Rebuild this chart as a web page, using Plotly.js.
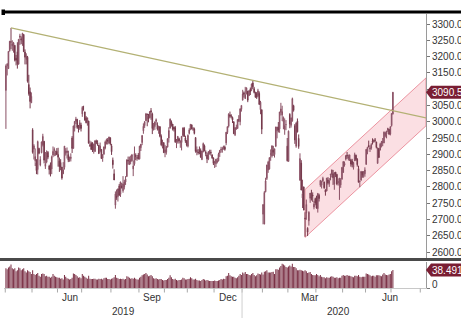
<!DOCTYPE html>
<html>
<head>
<meta charset="utf-8">
<script src="https://cdn.plot.ly/plotly-3.0.1.min.js"></script>
<style>
html,body{margin:0;padding:0;background:#fff;overflow:hidden}
#chart{width:461px;height:318px}
</style>
</head>
<body>
<div id="chart"></div>
<script>
// ---- Exchange calendar (non-trading weekdays) ----
const holidays = ['2019-04-05','2019-05-01','2019-05-02','2019-05-03','2019-06-07','2019-09-13',
  '2019-10-01','2019-10-02','2019-10-03','2019-10-04','2019-10-07','2020-01-01','2020-01-24',
  '2020-01-27','2020-01-28','2020-01-29','2020-01-30','2020-01-31','2020-04-06','2020-05-01',
  '2020-05-04','2020-05-05','2020-06-25','2020-06-26'];

// ---- Daily OHLC (one row per month: Apr 2019 ... Jul 2020) ----
const open = [
 3096,3172,3163,3218,3245,3233,3218,3234,3195,3215,3177,3259,3255,3244,3268,3214,3191,3198,3114,3092,3058,
 2975,2916,2880,2873,2853,2918,2867,2905,2929,2940,2863,2876,2906,2864,2854,2855,2898,2911,2897,2909,
 2899,2880,2875,2861,2840,2860,2903,2905,2899,2883,2887,2950,2918,2980,3001,3007,2976,2981,2990,
 3024,3043,3030,3012,3000,3002,2925,2933,2935,2913,2909,2940,2935,2928,2911,2915,2888,2901,2919,2938,2944,2935,2951,
 2926,2882,2840,2744,2771,2770,2803,2777,2803,2788,2800,2815,2832,2882,2870,2876,2880,2855,2871,2896,2887,2898,
 2886,2920,2936,2972,2988,3003,3023,3017,3012,3034,3024,2981,2985,3001,2990,2975,2985,2955,2923,2936,
 2905,2906,2922,2950,2980,2999,2993,2983,2982,2937,2939,2948,2936,2936,2958,2980,2950,2940,
 2925,2964,2975,2990,2976,2978,2951,2907,2907,2911,2912,2884,2908,2926,2907,2898,2885,2906,2906,2898,2889,
 2874,2871,2876,2880,2904,2913,2915,2918,2922,2935,2967,2986,3021,3017,3013,2999,2960,2980,2979,3006,3000,3038,
 3066,3089,3071,3086,3094,3080,3100,3099,3119,3101,3090,3086,3080,3087,3037,3037,
 2716,2686,2785,2826,2852,2855,2900,2895,2913,2899,2925,2972,2983,2978,3029,3021,3000,2976,2991,2925,
 2878,3023,2989,3003,3049,2988,2925,3002,2949,2820,2873,2766,2800,2704,2720,2673,2696,2765,2768,2775,2738,2764,
 2743,2733,2774,2805,2805,2818,2815,2791,2787,2821,2810,2836,2838,2840,2809,2845,2838,2813,2810,2806,2823,
 2844,2867,2885,2897,2888,2881,2882,2879,2860,2880,2897,2885,2856,2816,2820,2846,2835,2840,
 2869,2908,2927,2916,2919,2940,2938,2944,2938,2872,2918,2913,2924,2935,2935,2957,2962,2974,2977,2962,
 2988,3024];
const high = [
 3176,3180,3217,3248,3288,3250,3245,3236,3205,3244,3253,3270,3262,3273,3268,3222,3210,3202,3144,3105,3090,
 2980,2931,2918,2885,2942,2920,2894,2939,2963,2940,2907,2912,2910,2868,2875,2896,2924,2921,2911,2919,
 2920,2890,2885,2861,2876,2925,2919,2921,2911,2893,2903,2956,2988,3002,3015,3009,2990,3005,2997,
 3048,3049,3031,3017,3012,3003,2942,2939,2937,2931,2942,2945,2943,2929,2936,2916,2900,2923,2942,2948,2950,2954,2951,
 2932,2890,2854,2786,2792,2794,2809,2816,2812,2833,2821,2833,2884,2893,2893,2896,2901,2881,2924,2903,2898,2904,
 2926,2931,2958,2995,3002,3027,3025,3024,3032,3042,3028,2996,3001,3010,2998,2987,2985,2961,2945,2936,
 2929,2925,2949,2983,3010,3004,2993,2985,2987,2947,2956,2951,2943,2956,2982,2984,2957,2944,
 2961,2980,2993,2992,2984,2982,2953,2924,2916,2924,2918,2910,2936,2930,2912,2904,2910,2914,2914,2900,2890,
 2880,2885,2889,2905,2913,2923,2922,2926,2927,2968,2985,3026,3031,3023,3016,3002,2983,2991,3007,3020,3040,3050,
 3098,3093,3107,3105,3094,3097,3105,3117,3127,3107,3092,3091,3101,3093,3064,3037,
 2746,2787,2828,2868,2880,2890,2915,2927,2926,2917,2984,2984,2999,3030,3058,3049,3016,3010,3005,2950,
 2973,3026,3012,3074,3052,2993,2997,3010,2961,2903,2882,2822,2800,2722,2761,2676,2725,2781,2791,2783,2757,2767,
 2773,2780,2779,2820,2819,2831,2816,2792,2827,2830,2827,2839,2853,2852,2844,2846,2840,2826,2828,2827,2860,
 2878,2878,2898,2907,2899,2899,2886,2886,2877,2905,2899,2888,2865,2818,2849,2848,2848,2860,
 2916,2923,2942,2927,2934,2949,2945,2950,2938,2920,2919,2935,2941,2950,2970,2969,2972,2981,2977,2985,
 3026,3091];
const low = [
 2978,3142,3162,3215,3223,3218,3212,3185,3173,3163,3175,3236,3238,3233,3215,3176,3176,3120,3080,3041,3058,
 2902,2884,2864,2839,2838,2900,2863,2903,2924,2872,2855,2872,2885,2838,2832,2839,2891,2894,2897,2898,
 2862,2846,2851,2822,2840,2853,2896,2887,2876,2877,2878,2904,2918,2970,2993,2978,2967,2975,2970,
 3015,3034,3003,2995,2988,2933,2923,2913,2907,2902,2907,2931,2926,2902,2906,2886,2877,2898,2915,2930,2930,2932,2927,
 2898,2856,2821,2733,2760,2755,2772,2769,2795,2782,2792,2806,2830,2868,2867,2869,2878,2833,2865,2882,2880,2884,
 2884,2910,2928,2963,2981,3002,2986,2998,3012,3006,2962,2973,2975,2990,2973,2963,2952,2926,2918,2905,
 2891,2899,2921,2936,2980,2985,2973,2970,2935,2919,2933,2933,2920,2912,2954,2953,2935,2924,
 2921,2961,2975,2977,2972,2961,2905,2897,2899,2900,2889,2882,2906,2909,2894,2873,2882,2899,2896,2886,2867,
 2858,2861,2872,2878,2892,2905,2905,2914,2911,2928,2962,2982,3012,3010,2996,2963,2956,2975,2979,2999,2989,3031,
 3066,3074,3070,3084,3060,3079,3082,3094,3100,3087,3074,3070,3075,3052,3023,2962,
 2685,2685,2783,2821,2843,2853,2880,2890,2895,2890,2922,2949,2967,2966,3019,3002,2977,2960,2974,2878,
 2878,2980,2982,3000,3031,2932,2920,2967,2917,2820,2790,2735,2728,2647,2699,2649,2681,2751,2758,2754,2731,2743,
 2733,2721,2755,2800,2795,2815,2794,2773,2787,2807,2800,2820,2829,2806,2791,2830,2805,2804,2760,2797,2823,
 2844,2862,2881,2886,2881,2880,2862,2860,2853,2880,2879,2862,2814,2799,2820,2828,2828,2831,
 2868,2900,2921,2907,2914,2930,2936,2937,2918,2872,2889,2912,2921,2925,2934,2952,2949,2968,2959,2958,
 2985,3022];
const close = [
 3171,3176,3216,3247,3245,3239,3242,3189,3189,3178,3253,3263,3251,3271,3215,3198,3201,3124,3086,3062,3078,
 2906,2926,2893,2850,2939,2903,2884,2938,2955,2882,2870,2905,2891,2853,2853,2892,2909,2915,2905,2899,
 2891,2862,2861,2827,2852,2925,2910,2910,2882,2888,2891,2918,2987,3001,3008,2982,2976,2997,2979,
 3044,3043,3005,2997,3012,2934,2929,2915,2918,2931,2942,2937,2932,2902,2925,2887,2899,2923,2938,2945,2941,2953,2932,
 2908,2868,2821,2778,2768,2794,2775,2815,2797,2809,2815,2824,2883,2880,2880,2884,2898,2864,2902,2894,2890,2886,
 2925,2931,2958,2986,3000,3024,3022,3008,3031,3030,2979,2986,2999,3006,2978,2986,2955,2929,2933,2905,
 2914,2924,2948,2973,3008,2991,2978,2977,2938,2940,2955,2941,2940,2955,2981,2955,2940,2929,
 2958,2975,2992,2978,2979,2964,2909,2914,2905,2910,2892,2910,2933,2911,2903,2886,2907,2907,2904,2889,2872,
 2876,2885,2879,2900,2912,2915,2917,2925,2915,2968,2985,3023,3017,3017,3005,2963,2982,2981,3007,3005,3040,3050,
 3085,3084,3083,3104,3066,3095,3092,3116,3107,3090,3075,3075,3095,3053,3060,2977,
 2746,2783,2818,2867,2876,2890,2901,2926,2906,2917,2984,2984,2975,3030,3039,3031,3013,2988,2991,2880,
 2971,2993,3012,3071,3035,2944,2997,2969,2924,2887,2790,2779,2729,2702,2746,2661,2722,2781,2765,2772,2747,2750,
 2735,2780,2764,2820,2816,2826,2797,2784,2827,2812,2819,2839,2852,2828,2844,2838,2809,2816,2811,2822,2860,
 2878,2872,2895,2895,2892,2898,2870,2868,2875,2899,2884,2868,2814,2818,2847,2837,2847,2852,
 2915,2921,2923,2919,2930,2937,2944,2943,2921,2920,2890,2931,2936,2939,2968,2965,2971,2980,2962,2985,
 3025,3090.57];
// ---- Daily volume (billions of shares) ----
const volume = [
 42,40,44,46,50,42,40,42,36,38,44,42,38,40,42,36,33,38,36,34,30,
 38,30,28,30,32,26,24,30,31,30,25,26,24,24,22,24,30,26,24,23,
 22,22,20,21,18,28,24,21,20,18,19,22,31,30,28,25,22,23,21,
 30,26,24,22,20,26,20,19,19,20,20,18,18,20,19,20,18,21,22,22,19,19,18,
 20,21,23,28,22,21,19,20,19,20,18,19,25,24,22,20,21,20,22,20,18,18,
 22,24,27,29,30,32,29,25,26,28,25,21,20,21,19,18,19,19,17,16,
 17,17,19,22,27,23,19,18,20,17,16,17,17,18,22,21,18,18,
 19,20,23,21,18,18,20,17,16,16,15,17,19,18,16,17,16,15,15,15,15,
 16,15,15,16,17,19,18,20,19,25,26,32,27,25,24,24,22,21,23,26,30,28,
 33,31,34,30,30,28,27,30,32,28,25,27,31,30,29,33,
 29,35,36,38,33,33,33,34,35,30,40,40,39,44,47,52,50,48,45,44,
 46,48,46,52,45,45,42,38,38,39,38,37,36,38,36,32,33,34,30,28,27,27,
 30,28,25,28,24,23,23,21,23,22,22,24,25,24,22,22,23,21,22,22,26,
 28,26,26,28,26,26,25,24,23,26,26,25,28,24,23,24,24,24,
 31,30,29,27,25,26,26,24,27,27,27,26,25,29,32,29,28,27,29,30,
 36,38.491];

// ---- Axis labels and drawn study lines ----
const priceTicks = [2600,2650,2700,2750,2800,2850,2900,2950,3000,3050,3100,3150,3200,3250,3300];
const labelMonths = ['2019-06','2019-09','2019-12','2020-03','2020-06'];
const monthTickLabels = ['Jun','Sep','Dec','Mar','Jun'];
const yearLabels = ['2019','2020'];
const trendAnchors = [['2019-04-08',3288],['2020-01-14',3127]];
const channelAnchors = [['2020-03-19',2645],['2020-05-25',2800]];
const channelWidth = 147;

// trading calendar
function tradingDays(start, end, hol){
  const out=[]; const d=new Date(start+'T00:00:00Z'); const e=new Date(end+'T00:00:00Z');
  while(d<=e){const w=d.getUTCDay(); const s=d.toISOString().slice(0,10);
    if(w!==0&&w!==6&&hol.indexOf(s)<0) out.push(s); d.setUTCDate(d.getUTCDate()+1);}
  return out;
}
const calendar = tradingDays('2019-04-01','2020-08-31',holidays);
const dates = calendar.slice(0, close.length);

// ---- pixel layout ----
const W=461,H=318,L=4,R=35,T=14,B=30,PW=W-L-R,PH=H-T-B;
const fx = px => (px-L)/PW, fy = py => (H-B-py)/PH;
const XMIN=-1.5, XMAX=330;
const PRICE_RANGE=[2581.6,3330.7], VOL_RANGE=[0,55.6];
const pPerPrice = (258-14)/(PRICE_RANGE[1]-PRICE_RANGE[0]);
const pPerVol = (288-262)/(VOL_RANGE[1]-VOL_RANGE[0]);
const monthLabelShift = [0,0,0,8,12];   // px nudges of the axis labels
const yearLabelShift = [0,4];

const traces = [
 {type:'candlestick', x:dates, open:open, high:high, low:low, close:close, xaxis:'x', yaxis:'y',
  increasing:{line:{color:'#8a5064',width:1}, fillcolor:'#c49aa8'},
  decreasing:{line:{color:'#76394c',width:1}, fillcolor:'#76394c'},
  whiskerwidth:0, hoverinfo:'skip', showlegend:false},
 {type:'bar', x:dates, y:volume, xaxis:'x', yaxis:'y2', marker:{color:'#7b3146', line:{width:0}},
  hoverinfo:'skip', showlegend:false}
];

// the last-price tag hides the label under it
const lastP=close[close.length-1], lastV=volume[volume.length-1];
const priceTickText = priceTicks.map(v => Math.abs(v-lastP) < 25 ? '' : v.toFixed(2));

// month spans
const months = {};
calendar.forEach((d,i)=>{const m=d.slice(0,7); if(!months[m]) months[m]={first:i,last:i}; else months[m].last=i;});
const shapes = [];
const annotations = [];
Object.keys(months).forEach(m=>{
  const b = months[m].first-0.5;
  if(b>=XMIN && b<=XMAX) shapes.push({type:'line',xref:'x',yref:'paper',x0:b,x1:b,y0:fy(288.5),y1:fy(292.5),line:{color:'#a8a8a8',width:1}});
});
labelMonths.forEach((m,k)=>{
  const c=(months[m].first+months[m].last)/2;
  annotations.push({xref:'x',yref:'paper',x:c,y:fy(297.5),xshift:monthLabelShift[k],text:monthTickLabels[k],showarrow:false,xanchor:'center',yanchor:'middle',font:{size:10,color:'#333'}});
});
const yearStart = calendar.findIndex(d=>d.slice(0,4)==='2020')-0.5;
annotations.push({xref:'x',yref:'paper',x:(XMIN+yearStart)/2,y:fy(311.5),xshift:yearLabelShift[0],text:yearLabels[0],showarrow:false,yanchor:'middle',font:{size:10,color:'#333'}});
annotations.push({xref:'x',yref:'paper',x:(yearStart+XMAX)/2,y:fy(311.5),xshift:yearLabelShift[1],text:yearLabels[1],showarrow:false,yanchor:'middle',font:{size:10,color:'#333'}});
shapes.push({type:'line',xref:'x',yref:'paper',x0:yearStart,x1:yearStart,y0:fy(292),y1:fy(322),line:{color:'#cfcfcf',width:1}});

// top rule and panel separator
shapes.push({type:'rect',xref:'paper',yref:'paper',x0:fx(5),x1:fx(470),y0:fy(13.5),y1:fy(10.5),fillcolor:'#000',line:{width:0}});
shapes.push({type:'rect',xref:'paper',yref:'paper',x0:fx(1.5),x1:fx(5),y0:fy(15),y1:fy(9.5),fillcolor:'#000',line:{width:0}});
shapes.push({type:'rect',xref:'paper',yref:'paper',x0:fx(-5),x1:fx(470),y0:fy(261),y1:fy(258),fillcolor:'#4a4a4a',line:{width:0}});

// trend line
const ti0=dates.indexOf(trendAnchors[0][0]), ti1=dates.indexOf(trendAnchors[1][0]);
const tslope=(trendAnchors[1][1]-trendAnchors[0][1])/(ti1-ti0);
shapes.push({type:'line',xref:'x',yref:'y',x0:ti0,y0:trendAnchors[0][1],x1:XMAX,y1:trendAnchors[0][1]+tslope*(XMAX-ti0),
  line:{color:'#b3b174',width:1.2},layer:'above'});

// rising channel
const ci0=dates.indexOf(channelAnchors[0][0]), ci1=dates.indexOf(channelAnchors[1][0]);
const cslope=(channelAnchors[1][1]-channelAnchors[0][1])/(ci1-ci0);
const lo0=channelAnchors[0][1], lo1=lo0+cslope*(XMAX-ci0);
shapes.push({type:'path',xref:'x',yref:'y',layer:'below',
  path:`M ${ci0} ${lo0} L ${XMAX} ${lo1} L ${XMAX} ${lo1+channelWidth} L ${ci0} ${lo0+channelWidth} Z`,
  fillcolor:'rgba(240,140,155,0.28)',line:{color:'rgba(232,130,145,0.85)',width:1}});

// last value tags
const hP=6.5/pPerPrice, hV=6.5/pPerVol;
shapes.push({type:'path',xref:'paper',yref:'y',fillcolor:'#7a1e33',line:{width:0},
  path:`M ${fx(426)} ${lastP} L ${fx(431)} ${lastP+hP} L ${fx(475)} ${lastP+hP} L ${fx(475)} ${lastP-hP} L ${fx(431)} ${lastP-hP} Z`});
shapes.push({type:'path',xref:'paper',yref:'y2',fillcolor:'#7a1e33',line:{width:0},
  path:`M ${fx(426)} ${lastV} L ${fx(431)} ${lastV+hV} L ${fx(475)} ${lastV+hV} L ${fx(475)} ${lastV-hV} L ${fx(431)} ${lastV-hV} Z`});
annotations.push({xref:'paper',yref:'y',x:fx(429.5),y:lastP,xanchor:'left',yanchor:'middle',showarrow:false,
  text:lastP.toFixed(2),font:{size:10,color:'#fff'}});
annotations.push({xref:'paper',yref:'y2',x:fx(429.5),y:lastV,xanchor:'left',yanchor:'middle',showarrow:false,
  text:String(lastV),font:{size:10,color:'#fff'}});
annotations.push({xref:'paper',yref:'paper',x:fx(430),y:fy(284),xanchor:'left',yanchor:'middle',showarrow:false,
  text:'0',font:{size:10,color:'#333'}});

const layout = {
  width:W, height:H, margin:{l:L,r:R,t:T,b:B,pad:0},
  paper_bgcolor:'#fff', plot_bgcolor:'#fff', showlegend:false, dragmode:false,
  font:{family:'Liberation Sans, Arial, sans-serif', size:10, color:'#333'},
  bargap:0.2,
  xaxis:{type:'category', range:[XMIN,XMAX], anchor:'y2', showgrid:false, zeroline:false,
    showticklabels:false, ticks:'', showline:true, linecolor:'#c8c8c8', linewidth:1,
    rangeslider:{visible:false}, fixedrange:true},
  yaxis:{domain:[fy(258),1], range:PRICE_RANGE, side:'right', anchor:'x', tickvals:priceTicks,
    ticktext:priceTickText, ticks:'outside', ticklen:3, tickcolor:'#777', showgrid:false, zeroline:false,
    showline:true, linecolor:'#9a9a9a', linewidth:1, tickfont:{size:10,color:'#333'}, fixedrange:true},
  yaxis2:{domain:[0,fy(262)], range:VOL_RANGE, side:'right', anchor:'x', tickvals:[0], ticktext:[''],
    ticks:'outside', ticklen:3, tickcolor:'#777', showgrid:false, zeroline:false,
    showline:true, linecolor:'#9a9a9a', linewidth:1, fixedrange:true},
  shapes:shapes, annotations:annotations
};
Plotly.newPlot('chart', traces, layout, {staticPlot:true, displayModeBar:false});
</script>
</body>
</html>
